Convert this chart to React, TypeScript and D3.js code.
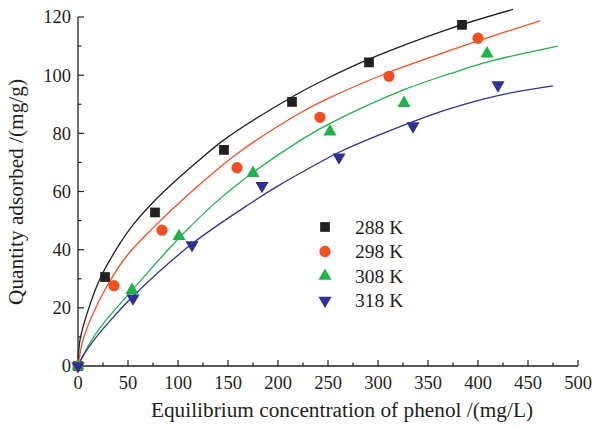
import React from 'react'
import * as d3 from 'd3'

// measured points (Ce mg/L, qe mg/g)
const series = ['288 K', '298 K', '308 K', '318 K']
const colors = ['#231f20', '#f04e23', '#21b04b', '#2e3192']
const pts288 = [[0, 0], [27, 30.6], [77, 52.8], [146, 74.3], [214, 90.8], [291, 104.4], [384, 117.3]]
const pts298 = [[0, 0], [36, 27.6], [84, 46.7], [159, 68.2], [242, 85.5], [311, 99.6], [400, 112.7]]
const pts308 = [[0, 0], [54, 26.1], [101, 44.6], [175, 66.3], [252, 80.6], [326, 90.4], [409, 107.4]]
const pts318 = [[0, 0], [55, 23.3], [114, 41.6], [184, 62], [261, 71.8], [335, 82.5], [420, 96.6]]
// fitted curves
const fit288 = [[0, 0], [2, 9], [9, 18], [22, 30], [39, 40.5], [55, 48.5], [77, 57], [100, 64.5], [122, 71], [145, 77.5], [214, 92.5], [247, 98.5], [291, 105.5], [372, 116], [435, 122.6]]
const fit298 = [[0, 0], [5, 9], [15, 18], [29, 27.5], [49, 38], [75, 47.5], [104, 57], [122, 62.5], [159, 73], [222, 87], [247, 91.5], [311, 101], [372, 108.5], [400, 111.8], [462, 118.7]]
const fit308 = [[0, 0], [12, 8], [25, 14.5], [54, 26], [101, 44], [137, 56], [175, 66.5], [222, 77.5], [247, 82.5], [326, 95], [372, 100.5], [409, 104.5], [480, 110]]
const fit318 = [[0, 0], [5, 3.5], [15, 8.5], [32, 15.5], [55, 24], [114, 42], [175, 56.5], [198, 61.5], [247, 71], [261, 73.5], [335, 84], [372, 88.5], [420, 93], [475, 96.3]]
const xTicks = [0, 50, 100, 150, 200, 250, 300, 350, 400, 450, 500]
const yTicks = [0, 20, 40, 60, 80, 100, 120]

const points = [pts288, pts298, pts308, pts318]
const fits = [fit288, fit298, fit308, fit318]
const shapes = [
    { type: d3.symbolSquare, size: 95, rot: 0 },
    { type: d3.symbolCircle, size: 100, rot: 0 },
    { type: d3.symbolTriangle, size: 75, rot: 0 },
    { type: d3.symbolTriangle, size: 75, rot: 180 },
]

const font = '"Liberation Serif", "Times New Roman", serif'

export default function App() {
    const width = 592, height = 427
    const x = d3.scaleLinear().domain([0, 500]).range([78, 578])
    const y = d3.scaleLinear().domain([0, 120]).range([366, 17])
    const line = d3.line<number[]>()
        .x(d => x(d[0]))
        .y(d => y(d[1]))
        .curve(d3.curveCatmullRom.alpha(0.5))
    const axisColor = '#231f20'
    const minorX = d3.range(25, 500, 50)
    const minorY = d3.range(10, 120, 20)

    return (
        <svg width={width} height={height} style={{ position: 'absolute', left: 0, top: 0, background: '#fff' }}
            fontFamily={font}>
            <rect width={width} height={height} fill='#fff' />
            {/* curves */}
            {fits.map((f, i) => (
                <path key={'f' + i} d={line(f) || ''} fill='none' stroke={colors[i]} strokeWidth={1.3} />
            ))}
            {/* axes */}
            <line x1={x(0)} x2={x(500)} y1={y(0)} y2={y(0)} stroke={axisColor} strokeWidth={1.3} />
            <line x1={x(0)} x2={x(0)} y1={y(0)} y2={y(120)} stroke={axisColor} strokeWidth={1.3} />
            {xTicks.map(t => (
                <g key={'xt' + t}>
                    <line x1={x(t)} x2={x(t)} y1={y(0)} y2={y(0) - 6} stroke={axisColor} strokeWidth={1.2} />
                    <text x={x(t)} y={389} fontSize={18.5} textAnchor='middle' fill='#231f20'>{t}</text>
                </g>
            ))}
            {minorX.map(t => (
                <line key={'xm' + t} x1={x(t)} x2={x(t)} y1={y(0)} y2={y(0) - 3.5} stroke={axisColor} strokeWidth={1.2} />
            ))}
            {yTicks.map(t => (
                <g key={'yt' + t}>
                    <line x1={x(0)} x2={x(0) + 6} y1={y(t)} y2={y(t)} stroke={axisColor} strokeWidth={1.2} />
                    <text x={71} y={y(t)} dy='0.35em' fontSize={18.5} textAnchor='end' fill='#231f20'>{t}</text>
                </g>
            ))}
            {minorY.map(t => (
                <line key={'ym' + t} x1={x(0)} x2={x(0) + 3.5} y1={y(t)} y2={y(t)} stroke={axisColor} strokeWidth={1.2} />
            ))}
            {/* data markers */}
            {points.map((p, i) => p.map((d, j) => (
                <path key={'p' + i + '-' + j}
                    d={d3.symbol().type(shapes[i].type).size(shapes[i].size)() || ''}
                    transform={'translate(' + x(d[0]) + ',' + y(d[1]) + ') rotate(' + shapes[i].rot + ')'}
                    fill={colors[i]} />
            )))}
            {/* legend */}
            {series.map((s, i) => (
                <g key={'l' + i} transform={'translate(325,' + (227 + i * 24.5) + ')'}>
                    <path d={d3.symbol().type(shapes[i].type).size(shapes[i].size)() || ''}
                        transform={'rotate(' + shapes[i].rot + ')'} fill={colors[i]} />
                    <text x={30} dy='0.35em' fontSize={19.5} fill='#231f20'>{s}</text>
                </g>
            ))}
            {/* axis titles */}
            <text x={342} y={417} fontSize={21.3} textAnchor='middle' fill='#231f20'>
                Equilibrium concentration of phenol /(mg/L)
            </text>
            <text transform='translate(23,192) rotate(-90)' fontSize={21.3} textAnchor='middle' fill='#231f20'>
                Quantity adsorbed /(mg/g)
            </text>
        </svg>
    )
}
